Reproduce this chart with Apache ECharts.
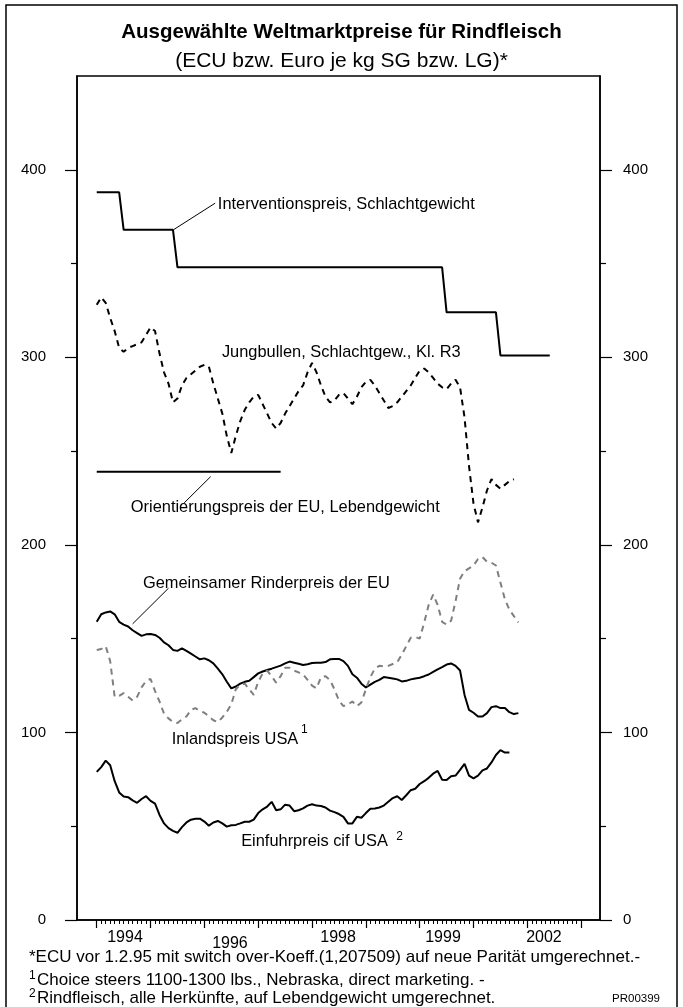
<!DOCTYPE html>
<html>
<head>
<meta charset="utf-8">
<script src="https://cdn.jsdelivr.net/npm/echarts@6/dist/echarts.min.js"></script>
<style>
  html, body { margin: 0; padding: 0; background: #fff; }
  #chart { width: 683px; height: 1007px; }
</style>
</head>
<body>
<div id="chart"></div>
<script>
// monthly values, index 0 = Jan 1994
const interventionspreis = [
  388, 388, 388, 388, 388, 388, 368, 368, 368, 368, 368, 368,
  368, 368, 368, 368, 368, 368, 348, 348, 348, 348, 348, 348,
  348, 348, 348, 348, 348, 348, 348, 348, 348, 348, 348, 348,
  348, 348, 348, 348, 348, 348, 348, 348, 348, 348, 348, 348,
  348, 348, 348, 348, 348, 348, 348, 348, 348, 348, 348, 348,
  348, 348, 348, 348, 348, 348, 348, 348, 348, 348, 348, 348,
  348, 348, 348, 348, 348, 348, 324, 324, 324, 324, 324, 324,
  324, 324, 324, 324, 324, 324, 301, 301, 301, 301, 301, 301,
  301, 301, 301, 301, 301, 301
]

const jungbullen = [
  328, 332, 329, 321, 314, 305, 303, 305, 306, 307, 308, 312,
  316, 314, 302, 292, 286, 276, 278, 285, 289, 291, 293, 295,
  296, 295, 286, 278, 270, 258, 249, 258, 266, 272, 276, 279,
  280, 275, 270, 265, 262, 265, 270, 274, 278, 282, 285, 292,
  297, 292, 285, 279, 276, 277, 280, 281, 278, 275, 279, 284,
  287, 288, 285, 281, 277, 273, 274, 276, 279, 282, 285, 289,
  293, 294, 292, 289, 286, 284, 283, 286, 288, 284, 268, 242,
  222, 212, 220, 229, 235, 232, 230, 232, 234, 235
]

const orientierungspreis = [
  239, 239, 239, 239, 239, 239, 239, 239, 239, 239, 239, 239,
  239, 239, 239, 239, 239, 239, 239, 239, 239, 239, 239, 239,
  239, 239, 239, 239, 239, 239, 239, 239, 239, 239, 239, 239,
  239, 239, 239, 239, 239, 239
]

const rinderpreisEU = [
  159, 163, 164, 164.5, 163, 159, 157.5, 156.5, 154.5, 153, 151.5, 152.3,
  152.5, 152, 150.5, 148, 146.5, 144, 143.5, 144.8, 143.5, 142, 140.5, 139,
  139.5, 138.5, 136.8, 134, 131, 127, 123.5, 124.5, 126, 127, 127.6, 129.5,
  131.5, 132.5, 133.3, 134, 134.8, 135.6, 136.8, 137.8, 137.2, 136.6, 136, 136.4,
  137, 137.2, 137.2, 137.5, 139, 139.2, 139.2, 138, 135.5, 131, 129.2, 126,
  124, 125.5, 127, 128, 129.5, 129.2, 128.8, 128.3, 127.2, 127.5, 128.3, 128.8,
  129.2, 130, 130.9, 132.3, 133.6, 134.8, 136.2, 136.8, 135.5, 133, 120, 112,
  110.5, 108.5, 108.5, 110.3, 113.5, 114, 113, 113, 110.8, 109.8, 110.3
]

const inlandspreisUSA = [
  144, 144.5, 146, 138, 119, 119.5, 121, 119, 117, 119, 124, 127.5,
  128.5, 122, 116.5, 110, 107.5, 105.5, 105, 107, 108.5, 112, 113, 111.5,
  110.5, 108.5, 106.5, 105.5, 108, 111, 115, 123, 125.5, 126, 123, 120,
  127, 131.5, 133, 130, 126.5, 130, 134.5, 134.5, 133, 132, 131, 128,
  125, 123.5, 129.5, 130, 128, 123, 117, 114, 115, 116.5, 114, 116,
  123, 129.5, 134, 135.5, 135.3, 135.5, 136.5, 137.5, 141.5, 146, 150.5, 151,
  150, 158.5, 168, 173.5, 168, 159, 157.5, 159.5, 170, 182, 186, 187.5,
  189, 192.5, 193.5, 191, 190.5, 189, 180, 171, 165.5, 162, 158.7
]

const einfuhrpreisUSA = [
  79, 81.5, 85, 82.5, 74, 68, 65.8, 65.5, 63.8, 62.5, 64.5, 66,
  63.5, 62, 56, 51.5, 49, 47.5, 46.5, 49.5, 52, 53.5, 54, 54,
  52.5, 50.3, 52, 52.8, 51.5, 49.8, 50.5, 50.7, 51.5, 52.4, 52.4, 53.5,
  57, 59, 60.5, 63, 58.5, 59, 61.5, 61, 58, 58.5, 59.5, 61,
  61.7, 61, 60.8, 60, 58.3, 57.5, 56.5, 55, 51.5, 51.5, 55, 54.5,
  57, 59.3, 59.5, 60, 61, 63, 65, 66, 64, 66.5, 69.2, 70,
  72.5, 74, 75.8, 78, 79.5, 74.8, 74.6, 76.7, 77, 80, 83.2, 77,
  75.5, 77, 79.8, 80.8, 84, 88, 90.6, 89.3, 89.3
]

// axis ticks and labels
const yMajor = [0, 100, 200, 300, 400]
const yMinor = [50, 150, 250, 350]
const yearLabels = ['1994', '1996', '1998', '1999', '2002']
const yearLabelPos = [6.3, 29.7, 53.8, 77.2, 99.7]
const majorTicks = [0, 12, 24, 36, 48, 60, 72, 84, 96, 108]
const monthTicks = []
for (let i = 0; i <= 108; i++) monthTicks.push(i)

// annotation texts, placed in data coordinates [month, value]
const notes = [
  { text: 'Interventionspreis, Schlachtgewicht', at: [27.0, 381.5] },
  { text: 'Jungbullen, Schlachtgew., Kl. R3', at: [27.9, 302.6] },
  { text: 'Orientierungspreis der EU, Lebendgewicht', at: [7.6, 219.7] },
  { text: 'Gemeinsamer Rinderpreis der EU', at: [10.3, 179.2] },
  { text: 'Inlandspreis USA', at: [16.7, 96] },
  { text: 'Einfuhrpreis cif USA', at: [32.2, 42.1] },
]
const superscripts = [
  { text: '1', at: [46.3, 101.5] },
  { text: '2', at: [67.5, 44.4] },
]
const leaders = [
  [[17.1, 368], [26.4, 382.2]],
  [[25.4, 236.4], [19.5, 222.4]],
  [[16.0, 176.9], [8.0, 157.9]],
]

const FONT = '"Liberation Sans", Arial, sans-serif'
const X_MIN = -4.4
const X_MAX = 112.2

const toPairs = arr => arr.map((v, i) => [i, v])

function lineSeries(name, values, color, width, type) {
  return {
    name,
    type: 'line',
    data: toPairs(values),
    symbol: 'none',
    smooth: false,
    animation: false,
    lineStyle: { color, width, type: type || 'solid' },
  }
}

function yAxisDef(position, main) {
  return {
    type: 'value',
    position,
    min: 0,
    max: 450,
    axisLine: { show: main, onZero: false, lineStyle: { color: '#000', width: 1.5 } },
    axisTick: {
      show: true,
      customValues: main ? yMajor : yMinor,
      length: main ? 12 : 6,
      lineStyle: { color: '#000', width: 1.2 },
    },
    axisLabel: {
      show: main,
      customValues: yMajor,
      color: '#000',
      fontSize: 15,
      fontFamily: FONT,
      margin: position === 'left' ? 31 : 23,
    },
    splitLine: { show: false },
  }
}

const chart = echarts.init(document.getElementById('chart'))

chart.setOption({
  backgroundColor: '#fff',
  animation: false,
  title: [
    {
      text: 'Ausgewählte Weltmarktpreise für Rindfleisch',
      left: 'center',
      top: 22,
      padding: 0,
      textStyle: { fontSize: 20.5, fontWeight: 'bold', color: '#000', fontFamily: FONT },
    },
    {
      text: '(ECU bzw. Euro je kg SG bzw. LG)*',
      left: 'center',
      top: 51,
      padding: 0,
      textStyle: { fontSize: 21, fontWeight: 'normal', color: '#000', fontFamily: FONT },
    },
  ],
  grid: {
    left: 77, right: 83, top: 76, bottom: 87,
    show: true, borderColor: '#000', borderWidth: 1.5,
    outerBoundsMode: 'none',
  },
  xAxis: [
    {
      type: 'value',
      position: 'bottom',
      min: X_MIN,
      max: X_MAX,
      axisLine: { show: true, onZero: false, lineStyle: { color: '#000', width: 1.5 } },
      axisTick: { show: true, customValues: monthTicks, length: 4, lineStyle: { color: '#000', width: 1 } },
      axisLabel: {
        show: true,
        customValues: yearLabelPos,
        margin: 10,
        formatter: v => {
          let k = 0
          yearLabelPos.forEach((p, i) => { if (Math.abs(p - v) < Math.abs(yearLabelPos[k] - v)) k = i })
          return k === 1 ? '{lo|' + yearLabels[k] + '}' : '{n|' + yearLabels[k] + '}'
        },
        rich: {
          n: { fontSize: 16, fontFamily: FONT, color: '#000' },
          lo: { fontSize: 16, fontFamily: FONT, color: '#000', padding: [6, 0, 0, 0] },
        },
      },
      splitLine: { show: false },
    },
    {
      type: 'value',
      position: 'bottom',
      min: X_MIN,
      max: X_MAX,
      axisLine: { show: false, onZero: false },
      axisTick: { show: true, customValues: majorTicks, length: 8, lineStyle: { color: '#000', width: 1.2 } },
      axisLabel: { show: false },
      splitLine: { show: false },
    },
  ],
  yAxis: [
    yAxisDef('left', true),
    yAxisDef('left', false),
    yAxisDef('right', true),
    yAxisDef('right', false),
  ],
  series: [
    lineSeries('Interventionspreis', interventionspreis, '#000', 2),
    lineSeries('Jungbullen', jungbullen, '#000', 2, [6, 5]),
    lineSeries('Orientierungspreis', orientierungspreis, '#000', 2),
    lineSeries('Rinderpreis EU', rinderpreisEU, '#000', 2),
    lineSeries('Inlandspreis USA', inlandspreisUSA, '#7f7f7f', 2, [6, 5]),
    lineSeries('Einfuhrpreis USA', einfuhrpreisUSA, '#000', 2),
  ],
})

// annotations and footnotes go into one graphic layer
const finder = { xAxisIndex: 0, yAxisIndex: 0 }
const px = p => chart.convertToPixel(finder, p)
const graphic = []

notes.forEach(n => {
  const [x, y] = px(n.at)
  graphic.push({
    type: 'text', x, y, silent: true,
    style: { text: n.text, fill: '#000', font: '16.4px ' + FONT, verticalAlign: 'middle' },
  })
})
superscripts.forEach(n => {
  const [x, y] = px(n.at)
  graphic.push({
    type: 'text', x, y, silent: true,
    style: { text: n.text, fill: '#000', font: '12px ' + FONT, align: 'center', verticalAlign: 'middle' },
  })
})
leaders.forEach(([a, b]) => {
  const p1 = px(a)
  const p2 = px(b)
  graphic.push({
    type: 'line', silent: true,
    shape: { x1: p1[0], y1: p1[1], x2: p2[0], y2: p2[1] },
    style: { stroke: '#000', lineWidth: 1 },
  })
})

const footnotes = [
  { text: '*ECU vor 1.2.95 mit switch over-Koeff.(1,207509) auf neue Parität umgerechnet.-', x: 29, y: 957 },
  { text: 'Choice steers 1100-1300 lbs., Nebraska, direct marketing. -', x: 37, y: 980, sup: '1' },
  { text: 'Rindfleisch, alle Herkünfte, auf Lebendgewicht umgerechnet.', x: 37, y: 998, sup: '2' },
]
footnotes.forEach(f => {
  graphic.push({
    type: 'text', x: f.x, y: f.y, silent: true,
    style: { text: f.text, fill: '#000', font: '17px ' + FONT, verticalAlign: 'middle' },
  })
  if (f.sup) {
    graphic.push({
      type: 'text', x: 29, y: f.y - 4, silent: true,
      style: { text: f.sup, fill: '#000', font: '12px ' + FONT, verticalAlign: 'middle' },
    })
  }
})
graphic.push({
  type: 'text', x: 660, y: 999, silent: true,
  style: { text: 'PR00399', fill: '#000', font: '11.5px ' + FONT, align: 'right', verticalAlign: 'middle' },
})
// outer frame, bottom edge runs off the page
graphic.push({
  type: 'rect', silent: true,
  shape: { x: 6, y: 5, width: 671, height: 1010 },
  style: { fill: 'none', stroke: '#000', lineWidth: 1.5 },
})

chart.setOption({ graphic })
</script>
</body>
</html>
